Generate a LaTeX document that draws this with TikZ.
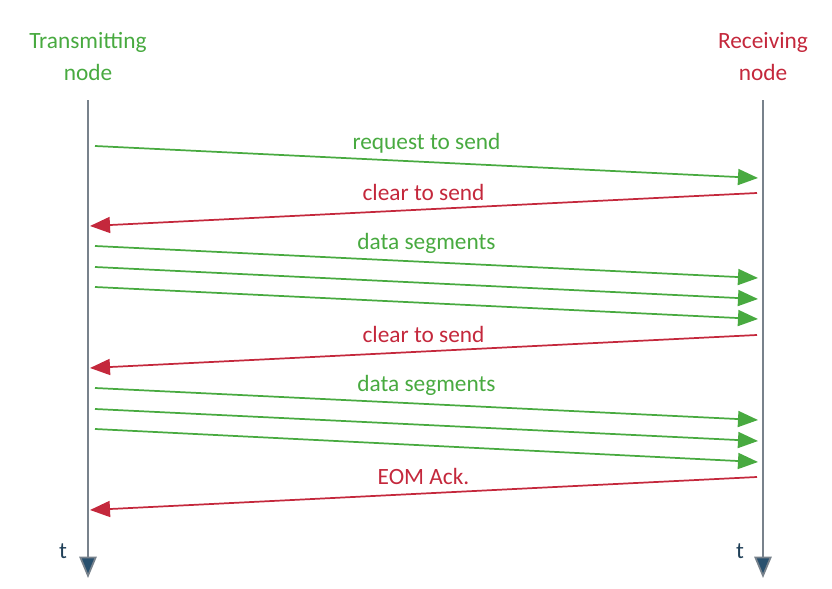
\documentclass[tikz,border=0pt]{standalone}
\usepackage{fontspec}
\setmainfont{Carlito}
\usetikzlibrary{arrows.meta,positioning}
\definecolor{sendgreen}{RGB}{72,170,64}
\definecolor{recvred}{RGB}{196,40,60}
\definecolor{axisgray}{RGB}{120,130,140}
\definecolor{axisblue}{RGB}{40,80,110}

\begin{document}
\begin{tikzpicture}[x=0.75pt,y=-0.75pt,font=\fontsize{17.5}{22}\selectfont,
  tx/.style={draw=sendgreen,line width=1.3pt,-{Triangle[length=15pt,width=12pt]}},
  rx/.style={draw=recvred,line width=1.3pt,-{Triangle[length=15pt,width=12pt]},fill=recvred},
  msg/.style={midway,above=2.5pt},
  tline/.style={draw=axisgray,line width=1.3pt,-{Triangle[length=16pt,width=13pt,fill=axisblue]}}]
  \useasboundingbox (0,0) rectangle (832,589);
  % the two nodes
  \node[text=sendgreen,align=center] (tx) at (88,57) {Transmitting\\[2pt]node};
  \node[text=recvred,align=center] (rx) at (763,57) {Receiving\\[2pt]node};
  \coordinate (txtop) at (88,100);
  \coordinate (txbot) at (88,578);
  \coordinate (rxtop) at (763,100);
  \coordinate (rxbot) at (763,578);
  \draw[tline] (txtop) -- (txbot);
  \draw[tline] (rxtop) -- (rxbot);
  \node[text=axisblue!80!black] (ttx) at (63,551) {t};
  \node[text=axisblue!80!black] (trx) at (740,551) {t};
  % request to send
  \coordinate (a1) at (95,146);  \coordinate (b1) at (758,178);
  \draw[tx,fill=sendgreen] (a1) -- node[msg,text=sendgreen]{request to send} (b1);
  % clear to send
  \coordinate (a2) at (757,193); \coordinate (b2) at (90,226);
  \draw[rx] (a2) -- node[msg,text=recvred]{clear to send} (b2);
  % data segments
  \coordinate (a3) at (95,246);  \coordinate (b3) at (758,278);
  \coordinate (a4) at (95,267);  \coordinate (b4) at (758,299);
  \coordinate (a5) at (95,287);  \coordinate (b5) at (758,319);
  \draw[tx,fill=sendgreen] (a3) -- node[msg,text=sendgreen]{data segments} (b3);
  \draw[tx,fill=sendgreen] (a4) -- (b4);
  \draw[tx,fill=sendgreen] (a5) -- (b5);
  % clear to send
  \coordinate (a6) at (757,335); \coordinate (b6) at (90,368);
  \draw[rx] (a6) -- node[msg,text=recvred]{clear to send} (b6);
  % data segments
  \coordinate (a7) at (95,388);  \coordinate (b7) at (758,420);
  \coordinate (a8) at (95,409);  \coordinate (b8) at (758,441);
  \coordinate (a9) at (95,429);  \coordinate (b9) at (758,462);
  \draw[tx,fill=sendgreen] (a7) -- node[msg,text=sendgreen]{data segments} (b7);
  \draw[tx,fill=sendgreen] (a8) -- (b8);
  \draw[tx,fill=sendgreen] (a9) -- (b9);
  % end of message
  \coordinate (a10) at (757,477); \coordinate (b10) at (90,510);
  \draw[rx] (a10) -- node[msg,text=recvred]{EOM Ack.} (b10);
\end{tikzpicture}
\end{document}
